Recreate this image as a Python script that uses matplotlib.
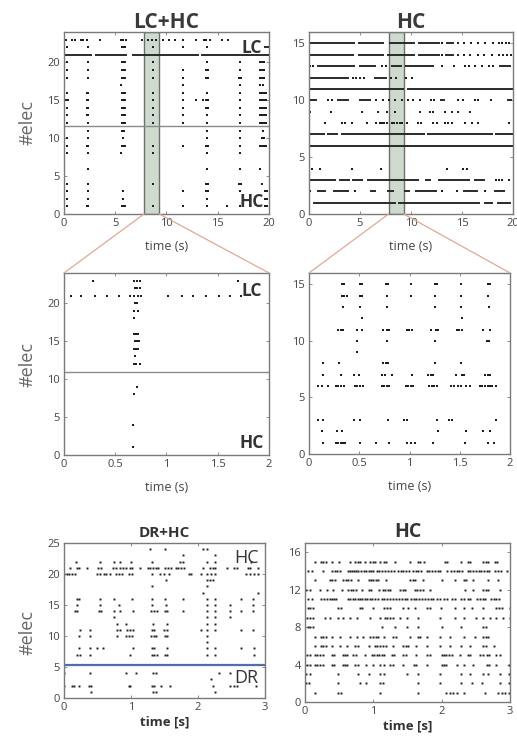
"""Spike raster panels: LC+HC vs HC recordings, with zoomed windows."""

import matplotlib
matplotlib.use("Agg")
import matplotlib.pyplot as plt
from matplotlib.patches import ConnectionPatch

plt.rcParams["font.family"] = ["Open Sans", "DejaVu Sans"]

DOT = "#1e1e1e"
SPINE = "#7a7a7a"
TXT = "#444444"

# ---- top left: LC+HC, 20 s -------------------------------------------------
tl_spikes = {
    23: [0.2, 0.8, 1.1, 1.7, 1.9, 2.2, 3.5, 5.6, 5.8, 6.0, 7.6, 8.2, 8.6, 9.0, 9.7, 10.2,
         10.8, 11.6, 12.9, 13.7, 13.9, 14.2, 15.4, 16.0],
    22: [0.26, 2.3, 5.65, 5.8, 5.95, 8.65, 11.6, 14.0],
    20: [0.26, 2.3, 5.65, 5.8, 5.95, 8.65, 14.0, 17.2, 19.1, 19.3, 19.5],
    19: [0.26, 2.3, 5.65, 5.8, 5.95, 8.65, 11.6, 13.9, 14.05, 17.2, 19.1, 19.3, 19.5],
    18: [0.26, 2.3, 5.65, 5.8, 5.95, 8.65, 11.6, 13.9, 14.05, 17.1, 17.25, 19.1, 19.3, 19.5],
    17: [5.6, 11.6, 17.2, 19.1, 19.4],
    16: [0.26, 2.2, 2.35, 5.65, 5.8, 5.95, 8.65, 11.6, 14.0, 17.2, 19.1, 19.3, 19.5, 19.7],
    15: [0.2, 0.35, 2.2, 2.35, 5.65, 5.8, 5.95, 8.65, 11.6, 12.9, 13.6, 13.9, 14.05, 17.2,
         19.1, 19.3, 19.5, 19.7],
    14: [0.26, 2.2, 2.35, 5.65, 5.8, 5.95, 8.65, 11.6, 13.9, 14.05, 17.2, 19.1, 19.3, 19.5, 19.7],
    13: [0.26, 2.2, 2.35, 5.65, 5.8, 5.95, 8.65, 11.6, 14.0, 17.2, 19.1, 19.3, 19.5, 19.7],
    12: [0.26, 2.3, 5.65, 5.8, 5.95, 8.65, 11.6, 14.0, 17.2, 19.1, 19.3, 19.5, 19.7],
    11: [2.3, 5.7, 5.85, 14.0, 17.2, 19.4],
    10: [0.26, 2.3, 5.8, 14.0, 17.2, 19.3, 19.5],
    9: [0.26, 2.2, 2.35, 5.65, 5.8, 5.95, 8.65, 11.6, 13.9, 14.05, 17.2, 19.1, 19.3, 19.5, 19.7],
    8: [0.26, 2.3, 5.6, 8.65, 14.0, 17.2],
    6: [2.3, 14.0, 17.2, 19.1],
    4: [0.26, 2.3, 8.65, 13.9, 14.05, 17.1, 17.25, 19.3],
    3: [0.26, 2.3, 5.8, 11.6, 13.9, 14.05, 17.2, 19.6, 19.8],
    2: [0.26, 2.3, 5.8, 14.0, 19.6, 19.8],
    1: [0.26, 2.2, 2.35, 5.65, 5.8, 5.95, 8.65, 11.6, 14.0, 15.9, 17.2, 19.6, 19.8],
}
tl_bursts = {
    21: [(0.0, 2.7), (3.0, 6.1), (6.6, 13.2), (13.4, 20.0)],
    22: [(19.5, 20.0)],
}

# ---- top right: HC, 20 s ----------------------------------------------------
tr_spikes = {
    15: [13.0, 14.6, 15.2, 15.9, 16.6, 17.3, 18.0, 18.6, 18.9, 19.3, 19.6],
    14: [13.0, 14.6, 15.2, 15.8, 16.6, 17.2, 17.9, 18.6, 19.0, 19.4, 19.8],
    13: [0.1, 0.4, 7.2, 7.5, 13.0, 14.2, 15.3, 15.7, 16.3, 17.0, 17.6, 18.0],
    12: [4.3, 4.6, 5.0, 5.4, 8.0, 8.5, 9.5, 10.1],
    10: [1.9, 2.3, 6.6, 7.3, 7.8, 8.4, 9.1, 9.7, 10.2, 10.9, 12.0, 12.3, 14.6, 15.1, 16.3,
         16.6, 17.8],
    9: [0.1, 2.2, 5.2, 6.8, 7.6, 8.4, 10.9, 11.9, 12.2, 13.3, 14.0, 14.6, 15.8],
    8: [1.6, 3.2, 3.5, 4.2, 5.7, 6.6, 7.0, 7.2, 7.4, 7.6, 8.1, 8.3, 8.6, 8.9, 9.1, 9.6, 10.7,
        11.0, 12.2, 12.5, 13.3, 13.6, 14.0, 15.3, 16.0, 16.6, 19.6],
    4: [0.26, 1.1, 4.2, 7.1, 13.5, 15.1, 15.5],
    3: [18.3, 18.6, 18.9, 19.6],
    2: [0.1, 4.5, 13.0, 14.5, 17.3],
}
tr_bursts = {
    15: [(0.1, 4.5), (4.8, 7.4), (7.8, 10.4), (10.7, 12.8), (13.4, 14.2)],
    14: [(0.1, 4.4), (4.8, 7.4), (7.6, 10.4), (10.7, 12.8), (13.3, 14.2)],
    13: [(0.8, 4.5), (4.9, 6.6), (8.0, 9.1), (9.4, 12.3), (18.6, 19.8)],
    12: [(0.0, 3.9), (6.4, 7.6)],
    11: [(0.0, 9.3), (9.6, 20.0)],
    10: [(0.1, 0.8), (2.7, 3.9), (4.9, 6.1), (12.8, 13.3), (19.4, 19.9)],
    7: [(0.1, 1.6), (1.8, 2.8), (3.1, 11.4), (11.6, 18.0), (18.2, 20.0)],
    6: [(0.0, 20.0)],
    3: [(0.1, 2.6), (2.9, 4.0), (4.2, 5.3), (5.7, 10.8), (11.4, 12.0), (12.6, 15.8), (16.2, 17.3)],
    2: [(0.75, 1.7), (2.4, 3.9), (6.0, 6.6), (7.6, 8.3), (9.3, 9.9), (10.4, 12.5), (15.1, 16.6),
        (18.1, 19.2)],
    1: [(0.4, 8.5), (8.7, 16.8), (17.2, 18.0), (18.4, 19.8)],
}

# ---- middle left: LC+HC, 2 s window -------------------------------------------
ml_spikes = {
    23: [0.28, 0.683, 0.715, 0.74, 1.70],
    22: [0.69, 0.715, 0.74],
    21: [0.07, 0.17, 0.30, 0.42, 0.54, 0.64, 0.68, 0.72, 0.75, 1.01, 1.15, 1.26, 1.39, 1.51,
         1.62, 1.73],
    20: [0.69, 0.71],
    19: [0.68, 0.725],
    18: [0.68],
    16: [0.68, 0.70, 0.72],
    15: [0.69, 0.71, 0.73],
    14: [0.68, 0.70, 0.72],
    13: [0.69],
    12: [0.68, 0.70, 0.74],
    9: [0.71],
    8: [0.68],
    4: [0.67],
    1: [0.67],
}

# ---- middle right: HC, 2 s window --------------------------------------------
mr_spikes = {
    15: [0.325, 0.35, 0.51, 0.53, 0.77, 0.785, 1.015, 1.25, 1.27, 1.51, 1.78, 1.80],
    14: [0.325, 0.35, 0.375, 0.51, 0.53, 0.775, 1.015, 1.255, 1.51, 1.785],
    13: [0.335, 0.507, 0.773, 1.254, 1.513, 1.795],
    12: [0.524, 1.52],
    11: [0.29, 0.315, 0.34, 0.474, 0.53, 0.733, 0.773, 0.796, 0.972, 0.998, 1.028, 1.214,
         1.26, 1.28, 1.47, 1.49, 1.525, 1.735, 1.80],
    10: [0.474, 0.773, 1.254, 1.77, 1.79],
    9: [0.474],
    8: [0.143, 0.30, 0.74, 0.763, 0.783, 1.254, 1.513],
    7: [0.143, 0.318, 0.45, 0.50, 0.723, 0.756, 0.823, 1.028, 1.187, 1.214, 1.237, 1.46,
        1.52, 1.546, 1.75, 1.78, 1.80],
    6: [0.093, 0.133, 0.186, 0.265, 0.292, 0.318, 0.352, 0.458, 0.481, 0.507, 0.541, 0.723,
        0.746, 0.773, 0.799, 0.965, 0.988, 1.015, 1.038, 1.194, 1.221, 1.247, 1.270, 1.413,
        1.446, 1.479, 1.513, 1.559, 1.602, 1.702, 1.725, 1.751, 1.778, 1.801, 1.824, 1.857],
    3: [0.093, 0.136, 0.45, 0.507, 0.783, 0.949, 0.972, 1.277, 1.393, 1.42, 1.857],
    2: [0.133, 0.275, 0.332, 1.28, 1.566, 1.735, 1.80],
    1: [0.143, 0.265, 0.29, 0.318, 0.342, 0.358, 0.507, 0.663, 0.796, 0.972, 1.015, 1.055,
        1.237, 1.552, 1.778, 1.844],
}

# ---- bottom left: DR+HC, 3 s ---------------------------------------------------
bl_spikes = {
    24: [1.28, 1.50, 2.08, 2.14],
    23: [1.77, 2.25],
    22: [0.175, 0.53, 0.74, 0.83, 1.0, 1.31, 1.73, 1.78, 2.14, 2.25, 2.79],
    21: [0.09, 0.2, 0.22, 0.34, 0.51, 0.55, 0.73, 0.77, 0.83, 0.88, 0.93, 0.98, 1.02, 1.14,
         1.25, 1.29, 1.33, 1.37, 1.40, 1.51, 1.55, 1.59, 1.67, 1.70, 1.74, 1.79, 2.07, 2.18,
         2.22, 2.25, 2.44, 2.54, 2.58, 2.74, 2.78, 2.89],
    20: [0.0, 0.04, 0.08, 0.12, 0.17, 0.49, 0.53, 0.59, 0.63, 0.69, 0.78, 0.82, 0.87, 0.97,
         1.02, 1.31, 1.44, 1.49, 1.57, 1.87, 1.89, 2.04, 2.14, 2.19, 2.25, 2.72, 2.78, 2.83,
         2.89],
    19: [1.52, 2.14, 2.18, 2.22],
    18: [1.31, 2.14],
    17: [2.07, 2.89],
    16: [0.2, 0.22, 0.53, 0.74, 1.02, 1.31, 1.50, 1.77, 2.14, 2.25, 2.64, 2.82],
    15: [0.19, 0.53, 0.82, 1.31, 1.52, 2.14, 2.25, 2.47, 2.82],
    14: [0.17, 0.2, 0.52, 0.55, 0.74, 0.83, 1.03, 1.30, 1.34, 1.39, 1.50, 1.54, 1.77, 2.14,
         2.25, 2.48, 2.64, 2.82],
    13: [0.74, 2.14, 2.25, 2.47],
    12: [0.79, 0.93, 1.33, 1.53, 2.14, 2.25],
    11: [0.24, 0.39, 0.79, 0.83, 0.94, 0.99, 1.03, 1.31, 1.35, 1.49, 1.53, 2.04, 2.14, 2.25,
         2.64, 2.82],
    10: [0.23, 0.39, 0.79, 0.93, 0.97, 1.02, 1.30, 1.34, 1.38, 1.50, 1.54, 2.14],
    9: [2.14],
    8: [0.22, 0.39, 0.49, 0.58, 1.03, 1.31, 1.35, 1.53, 2.14, 2.25, 2.64, 2.83],
    7: [0.2, 0.24, 0.39, 0.99, 1.31, 1.35, 1.39, 1.50, 1.54, 2.14, 2.25, 2.83],
    4: [0.0, 0.39, 0.92, 1.08, 1.33, 1.37, 2.32, 2.47],
    3: [2.2],
    2: [0.0, 0.12, 0.15, 0.23, 0.37, 0.40, 0.97, 0.99, 1.31, 1.35, 1.45, 1.58, 2.22, 2.48,
        2.53, 2.58, 2.87],
    1: [0.40, 1.33, 1.38, 2.25],
}

# ---- bottom right: HC, 3 s ----------------------------------------------------
br_spikes = {
    15: [0.146, 0.23, 0.27, 0.31, 0.39, 0.50, 0.66, 0.73, 0.77, 0.80, 0.88, 0.95, 0.99, 1.02,
         1.10, 1.15, 1.19, 1.32, 1.54, 1.66, 1.69, 1.74, 2.05, 2.08, 2.28, 2.39, 2.42, 2.61,
         2.65, 2.68, 2.78, 2.81],
    14: [0.05, 0.10, 0.27, 0.40, 0.44, 0.47, 0.51, 0.63, 0.66, 0.69, 0.72, 0.75, 0.78, 0.82,
         0.86, 0.90, 0.93, 0.97, 1.00, 1.05, 1.09, 1.12, 1.17, 1.21, 1.26, 1.30, 1.36, 1.40,
         1.44, 1.48, 1.52, 1.58, 1.62, 1.66, 1.70, 1.78, 1.81, 1.86, 1.90, 1.95, 1.98, 2.08,
         2.13, 2.18, 2.22, 2.26, 2.30, 2.38, 2.42, 2.46, 2.50, 2.54, 2.58, 2.62, 2.66, 2.70,
         2.78, 2.82, 2.87, 2.95],
    13: [0.15, 0.37, 0.40, 0.44, 0.56, 0.60, 0.63, 0.67, 0.78, 0.93, 0.96, 1.0, 1.04, 1.07,
         1.19, 1.54, 1.58, 1.61, 1.73, 2.0, 2.2, 2.32, 2.35, 2.46, 2.68, 2.83],
    12: [0.02, 0.07, 0.22, 0.32, 0.41, 0.54, 0.63, 0.67, 0.71, 0.75, 0.83, 0.93, 0.96, 1.09,
         1.14, 1.17, 1.22, 1.25, 1.39, 1.43, 1.46, 1.61, 1.64, 1.68, 1.72, 1.83, 2.34, 2.46,
         2.61, 2.65, 2.68, 2.85],
    11: [0.05, 0.10, 0.24, 0.28, 0.32, 0.36, 0.39, 0.42, 0.46, 0.63, 0.66, 0.70, 0.73, 0.77,
         0.80, 0.84, 0.88, 0.91, 0.95, 0.98, 1.02, 1.07, 1.12, 1.16, 1.20, 1.24, 1.29, 1.33,
         1.38, 1.42, 1.46, 1.50, 1.55, 1.59, 1.63, 1.67, 1.71, 1.75, 1.80, 1.84, 1.88, 1.93,
         1.98, 2.03, 2.08, 2.15, 2.20, 2.28, 2.33, 2.38, 2.42, 2.52, 2.56, 2.60, 2.64, 2.72,
         2.76, 2.80, 2.84],
    10: [0.05, 0.08, 0.12, 0.49, 0.52, 0.80, 0.84, 0.99, 1.16, 1.20, 1.24, 1.44, 1.51, 1.61,
         1.78, 1.83, 1.99, 2.2, 2.32, 2.44, 2.61, 2.80, 2.84, 2.88, 3.0],
    9: [0.03, 0.07, 0.12, 0.29, 0.36, 0.49, 0.56, 0.66, 0.76, 0.95, 1.10, 1.17, 1.20, 1.24,
        1.29, 1.39, 1.49, 1.66, 1.98, 2.20, 2.32, 2.51, 2.61, 2.71, 2.80, 2.90, 3.0],
    8: [0.05, 0.08, 0.12, 1.12, 1.32, 1.49, 1.66, 2.0, 2.29, 2.61, 2.65],
    7: [0.15, 0.23, 0.27, 0.31, 0.39, 0.51, 0.66, 0.76, 0.85, 0.95, 0.99, 1.04, 1.07, 1.15,
        1.29, 1.33, 1.54, 1.66, 1.69, 1.78, 1.98, 2.12, 2.32, 2.49, 2.61, 2.65, 2.68],
    6: [0.15, 0.23, 0.27, 0.31, 0.39, 0.51, 0.61, 0.73, 0.77, 0.93, 1.02, 1.06, 1.10, 1.14,
        1.18, 1.29, 1.44, 1.48, 1.51, 1.63, 1.78, 1.98, 2.12, 2.29, 2.41, 2.61, 2.65, 2.76],
    5: [0.03, 0.07, 0.15, 0.18, 0.22, 0.26, 0.39, 0.42, 0.55, 0.59, 0.62, 0.71, 0.75, 0.88,
        0.98, 1.01, 1.05, 1.09, 1.12, 1.16, 1.27, 1.30, 1.44, 1.48, 1.63, 1.78, 1.83, 2.0,
        2.03, 2.07, 2.11, 2.15, 2.27, 2.39, 2.42, 2.56, 2.60, 2.66, 2.70, 2.80, 2.85],
    4: [0.03, 0.07, 0.15, 0.18, 0.22, 0.26, 0.39, 0.42, 0.55, 0.59, 0.62, 0.73, 0.78, 0.90,
        1.0, 1.10, 1.15, 1.24, 1.29, 1.44, 1.59, 1.63, 1.78, 2.0, 2.03, 2.07, 2.22, 2.32,
        2.46, 2.66, 2.70, 2.80, 2.98],
    3: [0.02, 0.07, 0.49, 0.78, 0.93, 1.10, 1.15, 1.49, 1.66, 1.98, 2.29, 2.41, 2.61, 2.68,
        2.85, 2.98],
    2: [0.02, 0.06, 0.49, 0.80, 0.90, 1.10, 1.14, 1.66, 1.98, 2.29, 2.44, 2.59, 2.85, 2.98],
    1: [0.15, 0.49, 0.52, 1.10, 1.66, 2.07, 2.12, 2.17, 2.22, 2.32, 2.63, 2.83, 2.88, 2.93,
        2.98],
}

# zoomed window in the 20 s recordings
window = (7.8, 9.3)


def raster(ax, spikes, bursts=None, ms=1.5):
    for elec, times in spikes.items():
        ax.plot(times, [elec] * len(times), ls="none", marker="s", ms=ms, mew=0, color=DOT)
    for elec, segs in (bursts or {}).items():
        for a, b in segs:
            ax.hlines(elec, a, b, color="#2a2a2a", lw=1.4)


def style(ax, xlim, ylim, xticks, yticks, xticklabels=None):
    ax.set_xlim(*xlim)
    ax.set_ylim(*ylim)
    ax.set_xticks(xticks)
    ax.set_yticks(yticks)
    if xticklabels:
        ax.set_xticklabels(xticklabels)
    ax.tick_params(direction="in", top=True, right=True, length=2.5, width=0.6,
                   color=SPINE, labelsize=8, labelcolor=TXT, pad=3)
    for s in ax.spines.values():
        s.set_color(SPINE)
        s.set_linewidth(1.0)


fig = plt.figure(figsize=(5.17, 7.36), dpi=100)

ax_tl = fig.add_axes([0.1238, 0.7092, 0.3965, 0.2473])
ax_tr = fig.add_axes([0.5977, 0.7092, 0.3946, 0.2473])
ax_ml = fig.add_axes([0.1238, 0.3818, 0.3965, 0.2473])
ax_mr = fig.add_axes([0.5977, 0.3832, 0.3888, 0.2459])
ax_bl = fig.add_axes([0.1238, 0.0516, 0.3888, 0.2106])
ax_br = fig.add_axes([0.5899, 0.0462, 0.3965, 0.2160])

# top row
for ax in (ax_tl, ax_tr):
    ax.axvspan(*window, facecolor="#cfdacf", edgecolor="#6f6f6f", lw=1.0, zorder=0)
raster(ax_tl, tl_spikes, tl_bursts)
raster(ax_tr, tr_spikes, tr_bursts)
ax_tl.axhline(11.6, color="#8a8a8a", lw=1.0)
style(ax_tl, (0, 20), (0, 24), [0, 5, 10, 15, 20], [0, 5, 10, 15, 20])
style(ax_tr, (0, 20), (0, 16), [0, 5, 10, 15, 20], [0, 5, 10, 15])
ax_tl.text(18.3, 21.9, "LC", fontsize=12.5, fontweight="bold", color="#333333", ha="center", va="center")
ax_tl.text(18.3, 1.6, "HC", fontsize=12.5, fontweight="bold", color="#333333", ha="center", va="center")
for ax, title in ((ax_tl, "LC+HC"), (ax_tr, "HC")):
    ax.set_title(title, fontsize=15, fontweight="bold", color="#3a3a3a", pad=3)
    ax.set_xlabel("time (s)", fontsize=9, color=TXT, labelpad=8)

# middle row
raster(ax_ml, ml_spikes)
raster(ax_mr, mr_spikes)
ax_ml.axhline(11, color="#8a8a8a", lw=1.0)
mid_ticks = [0, 0.5, 1, 1.5, 2]
mid_labels = ["0", "0.5", "1", "1.5", "2"]
style(ax_ml, (0, 2), (0, 24), mid_ticks, [0, 5, 10, 15, 20], mid_labels)
style(ax_mr, (0, 2), (0, 16), mid_ticks, [0, 5, 10, 15], mid_labels)
ax_ml.text(1.83, 21.6, "LC", fontsize=12.5, fontweight="bold", color="#333333", ha="center", va="center")
ax_ml.text(1.83, 1.6, "HC", fontsize=12.5, fontweight="bold", color="#333333", ha="center", va="center")
for ax in (ax_ml, ax_mr):
    ax.set_xlabel("time (s)", fontsize=9, color=TXT, labelpad=8)

# zoom connector lines
for ax_top, ax_mid in ((ax_tl, ax_ml), (ax_tr, ax_mr)):
    for xa, xb in ((window[0], 0), (window[1], 1)):
        con = ConnectionPatch(xyA=(xa, 0), coordsA=ax_top.transData, xyB=(xb, 1),
                              coordsB=ax_mid.transAxes, color="#e2a795", lw=0.9)
        fig.add_artist(con)

# bottom row
raster(ax_bl, bl_spikes, ms=1.4)
raster(ax_br, br_spikes, ms=1.4)
ax_bl.axhline(5.3, color="#4f6fa8", lw=1.6)
style(ax_bl, (0, 3), (0, 25), [0, 1, 2, 3], [0, 5, 10, 15, 20, 25])
style(ax_br, (0, 3), (0, 17), [0, 1, 2, 3], [0, 4, 8, 12, 16])
ax_bl.text(2.72, 22.6, "HC", fontsize=13, color="#333333", ha="center", va="center")
ax_bl.text(2.72, 3.3, "DR", fontsize=13, color="#333333", ha="center", va="center")
ax_bl.set_title("DR+HC", fontsize=11, fontweight="bold", color="#333333", pad=4)
ax_br.set_title("HC", fontsize=14, fontweight="bold", color="#333333", pad=4)
for ax in (ax_bl, ax_br):
    ax.set_xlabel("time [s]", fontsize=9.5, fontweight="bold", color="#333333", labelpad=2)

for y in (0.833, 0.505, 0.140):
    fig.text(0.054, y, "#elec", rotation=90, fontsize=13, color="#666666", ha="center", va="center")

fig.savefig("out.png", dpi=100)
